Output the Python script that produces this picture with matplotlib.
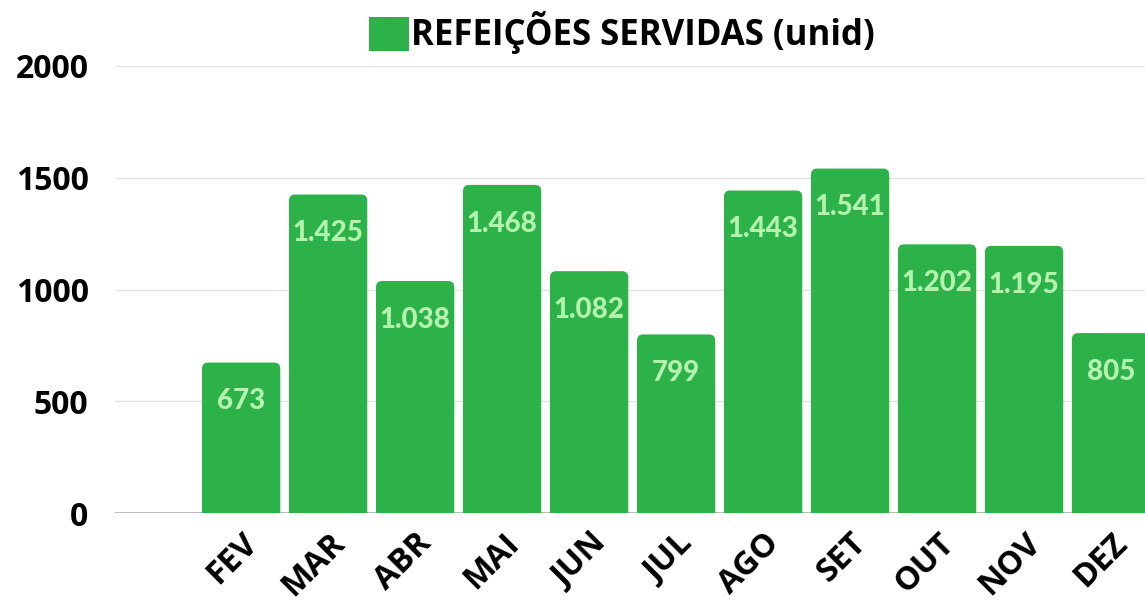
import matplotlib
matplotlib.use("Agg")
import matplotlib.pyplot as plt
from matplotlib.patches import Patch, FancyBboxPatch

# Dados
meses = ["FEV", "MAR", "ABR", "MAI", "JUN", "JUL", "AGO", "SET", "OUT", "NOV", "DEZ"]
refeicoes = [673, 1425, 1038, 1468, 1082, 799, 1443, 1541, 1202, 1195, 805]
yticks = [0, 500, 1000, 1500, 2000]
serie = "REFEIÇÕES SERVIDAS (unid)"

verde = "#2db24a"
verde_claro = "#b4f2ae"

fig = plt.figure(figsize=(11.45, 6.03), dpi=100)
ax = fig.add_axes([115 / 1145, 90 / 603, 1030 / 1145, 447 / 603])
ax.set_xlim(-1.45, 10.39)
ax.set_ylim(0, 2000)

x = list(range(len(meses)))
bars = ax.bar(x, refeicoes, width=0.9, color=verde, zorder=3)

# barras com cantos arredondados (no topo)
r_x = 0.07
r_y = 28
for b in bars:
    b.set_visible(False)
    p = FancyBboxPatch((b.get_x(), -2 * r_y), b.get_width(), b.get_height() + 2 * r_y,
                       boxstyle=f"round,pad=0,rounding_size={r_x}",
                       mutation_aspect=r_y / r_x, facecolor=verde, edgecolor="none",
                       zorder=3)
    ax.add_patch(p)

# Rótulos de valor dentro das barras
for b, v in zip(bars, refeicoes):
    txt = f"{v:,}".replace(",", ".")
    ax.annotate(txt, (b.get_x() + b.get_width() / 2, v), xytext=(0, -28),
                textcoords="offset points", ha="center", va="center",
                color=verde_claro, fontsize=20, fontweight="black",
                family="Lato", zorder=4)

ax.set_yticks(yticks)
ax.set_yticklabels([str(t) for t in yticks], fontsize=23, fontweight="bold",
                   family="Open Sans")
ax.set_xticks(x)
ax.set_xticklabels(meses, rotation=45, ha="right", rotation_mode="anchor",
                   fontsize=23.5, fontweight="bold", family="Open Sans")
ax.tick_params(axis="y", length=0, pad=19)
ax.tick_params(axis="x", length=0, pad=10)

ax.grid(axis="y", color="#e3e3e3", linewidth=1, zorder=0)
for s in ax.spines.values():
    s.set_visible(False)
ax.axhline(0, color="#b0b0b0", linewidth=1.2, zorder=2)

# Legenda
handle = Patch(facecolor=verde, edgecolor="none")
leg = fig.legend([handle], [serie], loc="center", bbox_to_anchor=(622 / 1145, 1 - 33 / 603),
                 frameon=False, handlelength=1.15, handleheight=1.15, handletextpad=0.08,
                 prop={"family": "Open Sans", "weight": "bold", "size": 25})

fig.savefig("out.png", dpi=100)
